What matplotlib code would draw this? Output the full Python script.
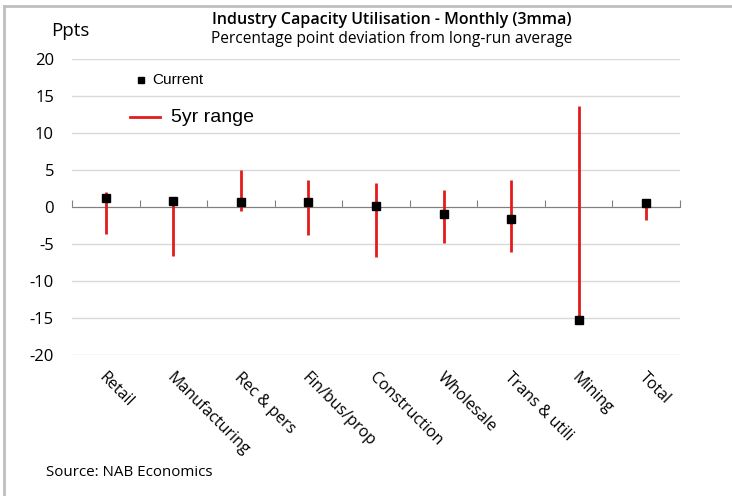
import matplotlib.pyplot as plt
import numpy as np
from matplotlib.lines import Line2D

# Datos
categories = ["Retail", "Manufacturing", "Rec & pers", "Fin/bus/prop", "Construction",
              "Wholesale", "Trans & utili", "Mining", "Total"]
current = [1.2, 0.8, 0.7, 0.7, 0.1, -1.0, -1.6, -15.3, 0.6]
range_high = [2.0, 0.9, 5.0, 3.6, 3.3, 2.3, 3.6, 13.7, 0.6]
range_low = [-3.6, -6.6, -0.6, -3.8, -6.8, -4.8, -6.1, -15.3, -1.7]
yticks = [-20, -15, -10, -5, 0, 5, 10, 15, 20]

red = '#e31b1b'

fig = plt.figure(figsize=(7.32, 4.96), dpi=100)
ax = fig.add_axes([72 / 732, 1 - 355 / 496, 608 / 732, 296 / 496])

x = np.arange(len(categories))
ax.vlines(x, range_low, range_high, color=red, lw=2, zorder=3)
ax.plot(x, current, 's', color='black', ms=5.5, zorder=4)

ax.set_xlim(-0.5, len(categories) - 0.5)
ax.set_ylim(-20, 20)
ax.set_yticks(yticks)
ax.set_yticklabels([str(v) for v in yticks], family='Open Sans', fontsize=12)
ax.tick_params(axis='y', length=0, pad=13)
ax.grid(axis='y', color='#d9d9d9', lw=1)
ax.set_axisbelow(True)

for s in ['left', 'right', 'top']:
    ax.spines[s].set_visible(False)
ax.spines['bottom'].set_position(('data', 0))
ax.spines['bottom'].set_color('#808080')
ax.set_xticks(np.arange(-0.5, len(categories), 1.0))
ax.set_xticklabels([])
ax.tick_params(axis='x', direction='in', length=5, color='#808080')

# Etiquetas de categoria giradas debajo del grafico
for i, name in enumerate(categories):
    ax.text(i + 0.02, -22.0, name, rotation=-45, rotation_mode='anchor',
            ha='left', va='top', family='Open Sans', fontsize=11.5, clip_on=False)

# Leyenda manual
ax.plot([0.1135], [0.929], 's', color='black', ms=5, transform=ax.transAxes)
ax.text(0.1316, 0.929, "Current", transform=ax.transAxes, va='center',
        family='Liberation Sans', fontsize=11)
ax.add_line(Line2D([0.0954, 0.1447], [0.804, 0.804], color=red, lw=2,
                   transform=ax.transAxes))
ax.text(0.163, 0.804, "5yr range", transform=ax.transAxes, va='center',
        family='Liberation Sans', fontsize=14)

fig.text(0.535, 1 - 20 / 496, "Industry Capacity Utilisation - Monthly (3mma)",
         ha='center', va='center', family='Open Sans', fontweight='semibold', fontsize=11.5)
fig.text(0.535, 1 - 39 / 496, "Percentage point deviation from long-run average",
         ha='center', va='center', family='Open Sans', fontsize=11.2)
fig.text(70 / 732, 1 - 31 / 496, "Ppts", ha='center', va='center',
         family='Open Sans', fontsize=13.5)
fig.text(46 / 732, 1 - 473 / 496, "Source: NAB Economics", ha='left', va='center',
         family='Open Sans', fontsize=10.9)

# Marco gris
fig.add_artist(Line2D([4 / 732, 4 / 732], [0, 1 - 6 / 496], color='#bfbfbf', lw=2))
fig.add_artist(Line2D([4 / 732, 1], [1 - 6 / 496, 1 - 6 / 496], color='#bfbfbf', lw=2))

fig.savefig('out.png', dpi=100)
